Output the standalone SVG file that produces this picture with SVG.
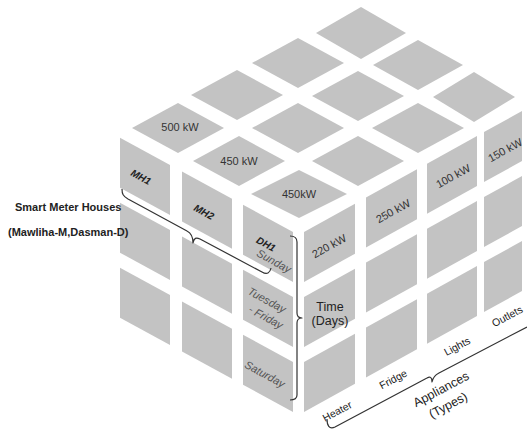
<svg xmlns="http://www.w3.org/2000/svg" width="527" height="432" viewBox="0 0 527 432">
<style>
.c{fill:#c3c3c3}
.t{font-family:"Liberation Sans",Arial,sans-serif;fill:#333;text-anchor:middle}
.kw{font-size:11px}
.day{font-size:11px;font-style:italic;fill:#555}
.mh{font-size:10px;font-style:italic;font-weight:bold;fill:#222}
.ax{font-size:12.5px;fill:#222}
.ap{font-size:10.5px;fill:#222}
.hd{font-size:11px;font-weight:bold;fill:#222;text-anchor:start}
.br{fill:none;stroke:#333;stroke-width:1.2;stroke-linejoin:round}
</style>
<rect width="527" height="432" fill="#fff"/>
<g id="top-face">
<g id="top-0-0"><polygon class="c" points="251,194 299,170 347,194 299,218"/><text class="t kw" x="299" y="197.5">450kW</text></g>
<g id="top-1-0"><polygon class="c" points="193,161 239,136 285,161 239,186"/><text class="t kw" x="239" y="164.5">450 kW</text></g>
<g id="top-2-0"><polygon class="c" points="132,128 178,103 224,128 178,153"/><text class="t kw" x="180" y="131">500 kW</text></g>
<g id="top-0-1"><polygon class="c" points="312,161 358,136 404,161 358,186"/></g>
<g id="top-1-1"><polygon class="c" points="252,128 298,103 344,128 298,153"/></g>
<g id="top-2-1"><polygon class="c" points="191,95 237,70 283,95 237,120"/></g>
<g id="top-0-2"><polygon class="c" points="372,128 418,103 464,128 418,153"/></g>
<g id="top-1-2"><polygon class="c" points="312,96 358,71 404,96 358,121"/></g>
<g id="top-2-2"><polygon class="c" points="252,63 298,38 344,63 298,88"/></g>
<g id="top-0-3"><polygon class="c" points="433,97 474,72 515,97 474,122"/></g>
<g id="top-1-3"><polygon class="c" points="373,65 418,40 463,65 418,90"/></g>
<g id="top-2-3"><polygon class="c" points="316,33 361,7 406,33 361,59"/></g>
</g>
<g id="left-face">
<g id="mh1-sun"><polygon class="c" points="120,137.7 170,165 170,215 120,187.7"/><text class="t mh" transform="translate(141,177) rotate(28.6)" y="3.5">MH1</text></g>
<g id="mh1-tue"><polygon class="c" points="120,202.7 170,230 170,280 120,252.7"/></g>
<g id="mh1-sat"><polygon class="c" points="120,267.7 170,295 170,345 120,317.7"/></g>
<g id="mh2-sun"><polygon class="c" points="182,171.5 232,198.8 232,248.8 182,221.5"/><text class="t mh" transform="translate(204,212) rotate(28.6)" y="3.5">MH2</text></g>
<g id="mh2-tue"><polygon class="c" points="182,236.5 232,263.8 232,313.8 182,286.5"/></g>
<g id="mh2-sat"><polygon class="c" points="182,301.5 232,328.8 232,378.8 182,351.5"/></g>
<g id="dh1-sun"><polygon class="c" points="243,204.8 293,232 293,282 243,254.8"/><text class="t mh" transform="translate(266,244) rotate(28.6)" y="3.5">DH1</text><text class="t day" transform="translate(274,261) rotate(28.6)" y="4">Sunday</text></g>
<g id="dh1-tue"><polygon class="c" points="243,269.8 293,297 293,347 243,319.8"/><text class="t day" transform="translate(267,300) rotate(28.6)" y="4">Tuesday</text><text class="t day" transform="translate(266,317) rotate(28.6)" y="4">- Friday</text></g>
<g id="dh1-sat"><polygon class="c" points="243,334.8 293,362 293,412 243,384.8"/><text class="t day" transform="translate(265,374) rotate(28.6)" y="4">Saturday</text></g>
</g>
<g id="right-face">
<g id="heater-1"><polygon class="c" points="304,232 355,203.7 355,253.7 304,282"/><text class="t kw" transform="translate(329,246) rotate(-29)" y="4">220 kW</text></g>
<g id="heater-2"><polygon class="c" points="304,297 355,268.7 355,318.7 304,347"/></g>
<g id="heater-3"><polygon class="c" points="304,362 355,333.7 355,383.7 304,412"/></g>
<g id="fridge-1"><polygon class="c" points="366,197.6 417,169.3 417,219.3 366,247.6"/><text class="t kw" transform="translate(393,211) rotate(-29)" y="4">250 kW</text></g>
<g id="fridge-2"><polygon class="c" points="366,262.6 417,234.3 417,284.3 366,312.6"/></g>
<g id="fridge-3"><polygon class="c" points="366,327.6 417,299.3 417,349.3 366,377.6"/></g>
<g id="lights-1"><polygon class="c" points="427,163.7 477,136 477,186 427,213.7"/><text class="t kw" transform="translate(453,176) rotate(-29)" y="4">100 kW</text></g>
<g id="lights-2"><polygon class="c" points="427,228.7 477,201 477,251 427,278.7"/></g>
<g id="lights-3"><polygon class="c" points="427,293.7 477,266 477,316 427,343.7"/></g>
<g id="outlets-1"><polygon class="c" points="484,132.1 522,111 522,161 484,182.1"/><text class="t kw" transform="translate(505,150) rotate(-29)" y="4">150 kW</text></g>
<g id="outlets-2"><polygon class="c" points="484,197.1 522,176 522,226 484,247.1"/></g>
<g id="outlets-3"><polygon class="c" points="484,262.1 522,241 522,291 484,312.1"/></g>
</g>
<g id="connectors">
<path class="br" d="M122,189 C122,194 123,196 128,199 L187,231 C191,233 193,237 193,243 C194,238 196,237 200,239 L262,272 C267,275 270,273 271,268"/>
<path class="br" d="M290,236 C295,236 297,238 297,242 L297,313 C297,316 298,318 302,318 C298,318 297,320 297,323 L297,395 C297,398 295,400 290,400"/>
<path class="br" d="M327,419 C327,425 329,430 335,427 L427,378 C430,376 432,377 432,382 C433,377 435,375 439,373 L527,327"/>
</g>
<g id="labels">
<text class="t hd" x="15" y="211">Smart Meter Houses</text>
<text class="t hd" x="8" y="236">(Mawliha-M,Dasman-D)</text>
<text class="t ax" x="330" y="311">Time</text>
<text class="t ax" x="330" y="325">(Days)</text>
<text class="t ap" transform="translate(337,411) rotate(-28)" y="4">Heater</text>
<text class="t ap" transform="translate(393,379) rotate(-28)" y="4">Fridge</text>
<text class="t ap" transform="translate(457,346) rotate(-28)" y="4">Lights</text>
<text class="t ap" transform="translate(507,316) rotate(-28)" y="4">Outlets</text>
<text class="t ax" transform="translate(441,389) rotate(-28)" y="4.5" font-size="13.5">Appliances</text>
<text class="t ax" transform="translate(448,405) rotate(-28)" y="4.5" font-size="13.5">(Types)</text>
</g>
</svg>
